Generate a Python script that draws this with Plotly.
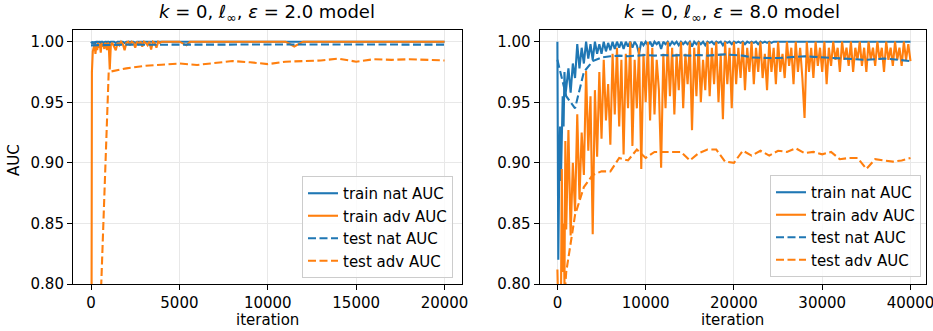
import plotly.graph_objects as go

# ---------------- data ----------------
# left panel (eps = 2.0), training curves
left_train_iter = [0, 50, 100, 150, 200, 250, 300, 350, 400, 450, 500, 550, 600, 650, 700, 750, 800, 850, 900, 950,
                   1000, 1060, 1120, 1200, 1300, 1400, 1500, 1600, 1700, 1800, 1900, 2000, 2100, 2200, 2300, 2400,
                   2500, 2600, 2700, 2800, 2900, 3000, 3100, 3200, 3300, 3400, 3500, 3600, 3700, 3800, 3900, 4000,
                   4500, 5000, 5400, 5600, 6000, 7000, 8000, 9000, 10000, 11000, 11500, 12000, 13000, 14000,
                   15000, 16000, 17000, 18000, 19000, 20000]
left_train_nat = [1.0, 0.999, 1.0, 0.998, 1.0, 0.999, 1.0, 1.0, 0.998, 1.0, 1.0, 0.999, 1.0, 1.0, 0.999, 1.0, 1.0, 1.0, 0.999, 1.0,
                  1.0, 0.999, 1.0, 1.0, 1.0, 0.999, 1.0, 1.0, 1.0, 1.0, 0.999, 1.0, 1.0, 1.0, 1.0, 1.0,
                  0.999, 1.0, 1.0, 1.0, 1.0, 1.0, 1.0, 1.0, 1.0, 1.0, 1.0, 1.0, 1.0, 1.0, 1.0, 1.0,
                  1.0, 1.0, 1.0, 1.0, 1.0, 1.0, 1.0, 1.0, 1.0, 1.0, 1.0, 1.0, 1.0, 1.0,
                  1.0, 1.0, 1.0, 1.0, 1.0, 1.0]
left_train_adv = [0.50, 0.975, 0.992, 0.997, 0.998, 0.990, 0.997, 0.993, 0.999, 0.995, 0.998, 0.991, 0.999, 0.996, 0.998, 0.994, 0.999, 0.997, 0.993, 0.999,
                  0.998, 0.977, 0.997, 0.999, 0.996, 0.993, 0.999, 0.997, 1.0, 0.998, 0.993, 0.999, 1.0, 0.997, 1.0, 0.999,
                  0.995, 1.0, 0.998, 1.0, 0.996, 1.0, 0.999, 0.997, 1.0, 0.9935, 1.0, 0.999, 0.995, 1.0, 0.999, 1.0,
                  1.0, 1.0, 0.997, 1.0, 1.0, 1.0, 1.0, 1.0, 1.0, 1.0, 0.996, 1.0, 1.0, 1.0,
                  1.0, 1.0, 1.0, 1.0, 1.0, 1.0]
# left panel, test curves (every 1000 iterations)
left_test_iter = [0, 1000, 2000, 3000, 4000, 5000, 6000, 7000, 8000, 9000, 10000,
                  11000, 12000, 13000, 14000, 15000, 16000, 17000, 18000, 19000, 20000]
left_test_nat = [0.9970, 0.9975, 0.9976, 0.9975, 0.9976, 0.9976, 0.9977, 0.9976, 0.9977, 0.9976, 0.9976,
                 0.9977, 0.9977, 0.9976, 0.9977, 0.9977, 0.9976, 0.9977, 0.9977, 0.9976, 0.9976]
left_test_adv = [0.56, 0.975, 0.978, 0.980, 0.981, 0.982, 0.9808, 0.9825, 0.984, 0.983, 0.9815,
                 0.9835, 0.984, 0.9845, 0.986, 0.9835, 0.9855, 0.985, 0.9855, 0.985, 0.9845]

# right panel (eps = 8.0), training curves: logged every 100 it. up to 1000, then every 250 it.
right_train_iter = list(range(0, 1000, 100)) + list(range(1000, 40001, 250))
right_train_nat = [1.0, 0.82, 0.89, 0.93, 0.885, 0.94, 0.955, 0.93, 0.975, 0.955,
                   0.962, 0.978, 0.958, 0.982,   # 1000
                   0.970, 0.998, 0.978, 0.995,   # 2000
                   0.982, 1.0, 0.986, 0.998,     # 3000
                   0.985, 1.0, 0.990, 0.998,     # 4000
                   0.990, 1.0, 0.992, 0.999,     # 5000
                   0.993, 1.0, 0.994, 1.0,       # 6000
                   0.995, 1.0, 0.994, 1.0,       # 7000
                   0.996, 1.0, 0.995, 1.0,       # 8000
                   0.997, 0.990, 1.0, 0.997,     # 9000
                   1.0, 0.997, 1.0, 0.996,       # 10000
                   1.0, 0.998, 1.0, 0.994,       # 11000
                   1.0, 0.998, 1.0, 0.997,       # 12000
                   1.0, 0.998, 1.0, 0.997,       # 13000
                   1.0, 0.998, 1.0, 0.998,       # 14000
                   1.0, 0.996, 1.0, 0.998,       # 15000
                   1.0, 0.998, 1.0, 0.997,       # 16000
                   1.0, 0.999, 1.0, 0.998,       # 17000
                   1.0, 0.999, 1.0, 0.997,       # 18000
                   1.0, 0.999, 1.0, 0.998,       # 19000
                   1.0, 0.999, 1.0, 0.999,       # 20000
                   1.0, 0.998, 1.0, 0.999,       # 21000
                   1.0, 0.999, 1.0, 0.998,       # 22000
                   1.0, 0.999, 1.0, 0.999,       # 23000
                   1.0, 0.999, 1.0, 1.0,         # 24000
                   1.0, 1.0, 1.0, 1.0,           # 25000
                   1.0, 1.0, 1.0, 1.0,           # 26000
                   1.0, 1.0, 1.0, 1.0,           # 27000
                   1.0, 1.0, 1.0, 1.0,           # 28000
                   1.0, 1.0, 1.0, 1.0,           # 29000
                   1.0, 1.0, 1.0, 1.0,           # 30000
                   1.0, 1.0, 1.0, 1.0,           # 31000
                   1.0, 1.0, 1.0, 1.0,           # 32000
                   1.0, 1.0, 1.0, 1.0,           # 33000
                   1.0, 1.0, 1.0, 1.0,           # 34000
                   1.0, 1.0, 1.0, 1.0,           # 35000
                   1.0, 1.0, 1.0, 1.0,           # 36000
                   1.0, 1.0, 1.0, 1.0,           # 37000
                   1.0, 1.0, 1.0, 1.0,           # 38000
                   1.0, 1.0, 1.0, 1.0,           # 39000
                   1.0]                          # 40000
right_train_adv = [0.812, 0.79, 0.75, 0.80, 0.78, 0.895, 0.81, 0.85, 0.80, 0.918,
                   0.845, 0.927, 0.840, 0.900,   # 1000
                   0.860, 0.940, 0.870, 0.925,   # 2000
                   0.890, 0.976, 0.910, 0.955,   # 3000
                   0.841, 0.960, 0.905, 0.975,   # 4000
                   0.920, 0.985, 0.935, 0.965,   # 5000
                   0.915, 0.990, 0.940, 0.995,   # 6000
                   0.930, 0.985, 0.907, 0.990,   # 7000
                   0.945, 1.0, 0.914, 0.985,     # 8000
                   0.945, 0.995, 0.895, 0.990,   # 9000
                   0.950, 1.0, 0.935, 0.995,     # 10000
                   0.940, 0.985, 0.960, 0.896,   # 11000
                   0.990, 0.945, 1.0, 0.955,     # 12000
                   0.995, 0.940, 0.990, 0.960,   # 13000
                   1.0, 0.945, 0.990, 0.965,     # 14000
                   1.0, 0.927, 0.995, 0.955,     # 15000
                   1.0, 0.950, 0.985, 0.960,     # 16000
                   1.0, 0.955, 0.995, 0.965,     # 17000
                   1.0, 0.950, 0.990, 0.936,     # 18000
                   1.0, 0.965, 0.995, 0.945,     # 19000
                   1.0, 0.965, 0.995, 0.970,     # 20000
                   1.0, 0.960, 0.995, 0.975,     # 21000
                   1.0, 0.965, 0.995, 0.975,     # 22000
                   1.0, 0.970, 0.990, 0.960,     # 23000
                   1.0, 0.975, 0.995, 0.965,     # 24000
                   1.0, 0.975, 0.990, 0.970,     # 25000
                   1.0, 0.980, 0.995, 0.965,     # 26000
                   1.0, 0.975, 0.995, 0.970,     # 27000
                   0.937, 1.0, 0.975, 0.995,     # 28000
                   0.970, 1.0, 0.980, 0.995,     # 29000
                   0.975, 1.0, 0.965, 0.995,     # 30000
                   0.980, 1.0, 0.985, 0.995,     # 31000
                   0.975, 1.0, 0.985, 0.995,     # 32000
                   0.980, 1.0, 0.975, 0.995,     # 33000
                   0.985, 1.0, 0.980, 0.995,     # 34000
                   0.975, 1.0, 0.985, 0.995,     # 35000
                   0.980, 1.0, 0.985, 0.995,     # 36000
                   0.975, 1.0, 0.985, 0.995,     # 37000
                   0.980, 1.0, 0.985, 0.995,     # 38000
                   0.980, 1.0, 0.985, 0.998,     # 39000
                   0.984]                        # 40000
# right panel, test curves (every 1000 iterations)
right_test_iter = list(range(0, 40001, 1000))
right_test_nat = [0.985, 0.955, 0.945, 0.975, 0.984, 0.987, 0.988, 0.9885, 0.988, 0.9885, 0.989,
                  0.9885, 0.989, 0.9885, 0.989, 0.9885, 0.989, 0.9885, 0.989, 0.9895, 0.989,
                  0.9885, 0.987, 0.9865, 0.9865, 0.9865, 0.987, 0.9875, 0.988, 0.9875, 0.987,
                  0.987, 0.9865, 0.986, 0.9855, 0.985, 0.9855, 0.986, 0.9855, 0.985, 0.984]
right_test_adv = [0.70, 0.81, 0.857, 0.88, 0.89, 0.893, 0.893, 0.904, 0.902, 0.911, 0.904,
                  0.909, 0.909, 0.909, 0.909, 0.902, 0.908, 0.911, 0.911, 0.901, 0.900,
                  0.910, 0.906, 0.910, 0.906, 0.910, 0.909, 0.912, 0.908, 0.909, 0.907,
                  0.909, 0.903, 0.904, 0.904, 0.895, 0.903, 0.902, 0.901, 0.902, 0.904]

series_names = ["train nat AUC", "train adv AUC", "test nat AUC", "test adv AUC"]
panel_titles = ["<i>k</i> = 0, <i>ℓ</i><sub>∞</sub>, <i>ε</i> = 2.0 model",
                "<i>k</i> = 0, <i>ℓ</i><sub>∞</sub>, <i>ε</i> = 8.0 model"]
y_ticks = [0.80, 0.85, 0.90, 0.95, 1.00]
left_x_ticks = [0, 5000, 10000, 15000, 20000]
right_x_ticks = [0, 10000, 20000, 30000, 40000]

# ---------------- styling ----------------
W, H = 933, 331
BLUE = "#1f77b4"
ORANGE = "#ff7f0e"
FONT = "DejaVu Sans"
DASH = "8px,3.5px"
LW = 2.1
FS = 15


def fx(p):
    return p / W


def fy(p):
    return 1 - p / H


fig = go.Figure()


def add(x, y, name, color, dash, xa, ya, leg):
    fig.add_trace(go.Scatter(x=x, y=y, mode="lines", name=name,
                             line=dict(color=color, width=LW, dash=dash),
                             xaxis=xa, yaxis=ya, legend=leg))


add(left_train_iter, left_train_nat, series_names[0], BLUE, "solid", "x", "y", "legend")
add(left_train_iter, left_train_adv, series_names[1], ORANGE, "solid", "x", "y", "legend")
add(left_test_iter, left_test_nat, series_names[2], BLUE, DASH, "x", "y", "legend")
add(left_test_iter, left_test_adv, series_names[3], ORANGE, DASH, "x", "y", "legend")

add(right_train_iter, right_train_nat, series_names[0], BLUE, "solid", "x2", "y2", "legend2")
add(right_train_iter, right_train_adv, series_names[1], ORANGE, "solid", "x2", "y2", "legend2")
add(right_test_iter, right_test_nat, series_names[2], BLUE, DASH, "x2", "y2", "legend2")
add(right_test_iter, right_test_adv, series_names[3], ORANGE, DASH, "x2", "y2", "legend2")

axis_common = dict(showline=True, linecolor="black", linewidth=1.1, mirror=True,
                   ticks="outside", ticklen=5, tickwidth=1.1, tickcolor="black",
                   showgrid=True, gridcolor="#e8e8e8", gridwidth=1, zeroline=False,
                   ticklabeloverflow="allow",
                   tickfont=dict(family=FONT, size=FS, color="black"), automargin=False)

y_dom = [fy(284), fy(30)]
y_range = [0.8, 1.00965]

legend_common = dict(bgcolor="rgba(255,255,255,0.8)", bordercolor="#cccccc", borderwidth=1,
                     font=dict(family=FONT, size=FS, color="black"),
                     xanchor="right", yanchor="bottom", tracegroupgap=0)

fig.update_layout(
    width=W, height=H,
    margin=dict(l=0, r=0, t=0, b=0),
    paper_bgcolor="white", plot_bgcolor="white",
    font=dict(family=FONT, size=FS, color="black"),
    showlegend=True,
    xaxis=dict(domain=[fx(73), fx(461.5)], range=[-1020, 20960], anchor="y",
               tickvals=left_x_ticks, ticktext=[str(v) for v in left_x_ticks], **axis_common),
    yaxis=dict(domain=y_dom, range=y_range, anchor="x",
               tickvals=y_ticks, ticktext=[f"{v:.2f}" for v in y_ticks], **axis_common),
    xaxis2=dict(domain=[fx(539.6), fx(925.5)], range=[-2016, 41700], anchor="y2",
                tickvals=right_x_ticks, ticktext=[str(v) for v in right_x_ticks], **axis_common),
    yaxis2=dict(domain=y_dom, range=y_range, anchor="x2",
                tickvals=y_ticks, ticktext=[f"{v:.2f}" for v in y_ticks], **axis_common),
    legend=dict(x=fx(453), y=fy(278), **legend_common),
    legend2=dict(x=fx(921), y=fy(277), **legend_common),
)

ann = []
for txt, cx in ((panel_titles[0], 267), (panel_titles[1], 732)):
    ann.append(dict(text=txt, x=fx(cx), y=fy(13), xref="paper", yref="paper",
                    xanchor="center", yanchor="middle", showarrow=False,
                    font=dict(family=FONT, size=18, color="black")))
for cx in (267, 732):
    ann.append(dict(text="iteration", x=fx(cx), y=fy(320), xref="paper", yref="paper",
                    xanchor="center", yanchor="middle", showarrow=False,
                    font=dict(family=FONT, size=FS, color="black")))
ann.append(dict(text="AUC", x=fx(14), y=fy(160), xref="paper", yref="paper",
                xanchor="center", yanchor="middle", showarrow=False, textangle=-90,
                font=dict(family=FONT, size=FS, color="black")))
fig.update_layout(annotations=ann)

fig.write_html("out.html", config={"displayModeBar": False})

# remove the browser's default page margin so the figure sits at (0, 0)
with open("out.html", "r", encoding="utf-8") as f:
    html = f.read()
html = html.replace("<head>", "<head><style>html,body{margin:0;padding:0;overflow:hidden;}</style>", 1)
with open("out.html", "w", encoding="utf-8") as f:
    f.write(html)
